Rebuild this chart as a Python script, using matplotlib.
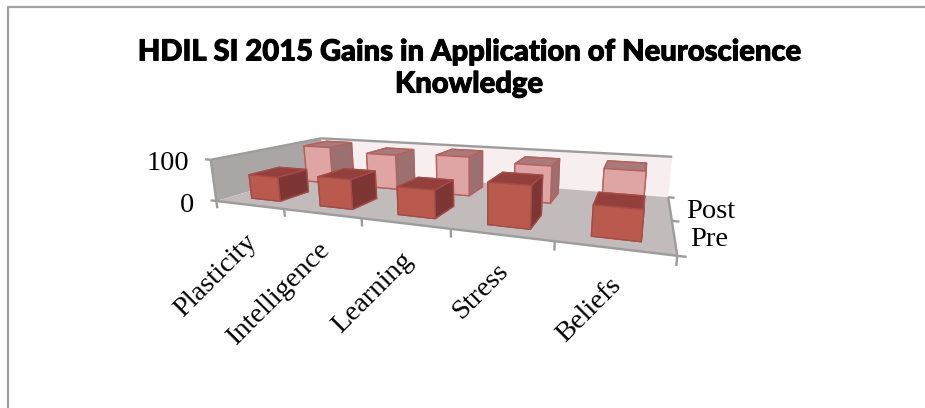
import matplotlib
matplotlib.use("Agg")
import matplotlib.pyplot as plt
import matplotlib.patheffects as pe
import numpy as np
from matplotlib.lines import Line2D
from mpl_toolkits.mplot3d import proj3d
from mpl_toolkits.mplot3d.art3d import Line3DCollection, Poly3DCollection

categories = ['Plasticity', 'Intelligence', 'Learning', 'Stress', 'Beliefs']
series_names = ['Pre', 'Post']
pre_values = [58, 68, 61, 87, 60]
post_values = [100, 90, 97, 88, 90]
value_ticks = [0, 100]

title = 'HDIL SI 2015 Gains in Application of Neuroscience\nKnowledge'

fig = plt.figure(figsize=(9.25, 4.08), dpi=100)
ax = fig.add_axes([0, 0, 1, 1], projection='3d', computed_zorder=False)
ax.apply_aspect = lambda position=None: None   # keep the whole figure, not a square
ax.set_axis_off()
ax.set_xlim(0, 5)
ax.set_ylim(0, 2)
ax.set_zlim(0, 100)

# camera: fit a perspective matrix to where the corners and ticks sit in the picture
world = np.array([
    [0, 0, 0], [5, 0, 0], [5, 2, 0], [0, 2, 0],
    [0, 0, 100], [0, 2, 100], [5, 2, 100],
    [1, 0, 0], [2, 0, 0], [3, 0, 0], [4, 0, 0], [5, 1, 0],
], dtype=float)
pixels = np.array([
    [217, 201], [677, 256], [668, 197], [323, 170],
    [210, 160], [322, 138], [672, 157],
    [284, 209], [362, 218], [451, 229], [554, 241], [673, 221],
], dtype=float)

rows = []
for (x, y, z), (u, v) in zip(world, pixels):
    X = [x, y, z/100, 1]
    u, v = u/100, v/100
    rows.append(X + [0, 0, 0, 0] + [-u*c for c in X])
    rows.append([0, 0, 0, 0] + X + [-v*c for c in X])
H = np.linalg.svd(np.array(rows))[2][-1].reshape(3, 4)
H[:, 2] /= 100
H[0] *= 100
H[1] *= 100
if H[2] @ [2.5, 1, 50, 1] < 0:
    H = -H
H /= H[2] @ [2.5, 1, 50, 1]

p0 = ax.transData.inverted().transform([0, 408])
p1 = ax.transData.inverted().transform([925, 0])
sx = (p1[0]-p0[0])/925
sy = (p1[1]-p0[1])/408
M = np.array([
    sx*H[0] + p0[0]*H[2],
    sy*H[1] + p0[1]*H[2],
    H[2] - np.array([0, 0, 0, 1.0]),
    H[2],
])
ax.get_proj = lambda: M

# walls and floor
floor = [(0, 0, 0), (5, 0, 0), (5, 2, 0), (0, 2, 0)]
left = [(0, 0, 0), (0, 2, 0), (0, 2, 100), (0, 0, 100)]
back = [(0, 2, 0), (5, 2, 0), (5, 2, 100), (0, 2, 100)]
for poly, c in [(back, '#f7eef0'), (left, '#aaa6a5'), (floor, '#c1bcbb')]:
    ax.add_collection3d(Poly3DCollection([poly], facecolors=c, edgecolors='none', zorder=0.5))

# frame edges and ticks
segments = [
    [(0, 0, 0), (5, 0, 0)], [(5, 0, 0), (5, 2, 0)],
    [(0, 0, 100), (0, 2, 100)], [(0, 2, 100), (5, 2, 100)],
    [(0, 0, 0), (0, 0, 100)],
]
for i in range(len(categories)+1):
    segments.append([(i, 0, 0), (i, 0, -18)])
for j in range(len(series_names)+1):
    segments.append([(5, j, 0), (5.07, j, 0)])
for t in value_ticks:
    segments.append([(0, 0, t), (-0.09, 0, t)])
ax.add_collection3d(Line3DCollection(segments, colors='#9c9c9c', linewidths=1.7, zorder=1.5))

# bars, faces are bottom, top, front, back, left, right
pre_faces = ['#7b3533', '#933f3c', '#ba5a4e', '#7b3533', '#7b3533', '#7d3634']
post_faces = ['#9a6e6e', '#a97a7a', '#dfa5a4', '#9a6e6e', '#9a6e6e', '#9c7070']
pos = np.arange(len(categories)) + 0.29
ax.bar3d(pos, np.full(5, 1.25), np.zeros(5), 0.43, 0.5, post_values,
         color=post_faces*5, edgecolor='#b5615e', linewidth=1, shade=False, zorder=2)
ax.bar3d(pos, np.full(5, 0.25), np.zeros(5), 0.43, 0.5, pre_values,
         color=pre_faces*5, edgecolor='#a54c48', linewidth=1, shade=False, zorder=3)

# labels: anchored on the axes, moved out by a few pixels
serif = 'Liberation Serif'
def label(x, y, z, text, dx, dy, **kw):
    xp, yp, _ = proj3d.proj_transform(x, y, z, M)
    ax.annotate(text, (xp, yp), xytext=(dx, dy), textcoords='offset pixels',
                family=serif, fontsize=20.5, color='black', zorder=5, annotation_clip=False, **kw)

for i, name in enumerate(categories):
    label(i+0.5, 0, 0, name, 4, -33, rotation=45, ha='right', va='center', rotation_mode='anchor')
label(5, 0.5, 0, series_names[0], 35, -3, ha='center', va='center')
label(5, 1.5, 0, series_names[1], 41, -3, ha='center', va='center')
for t in value_ticks:
    label(0, 0, t, str(t), -22, -4, ha='right', va='center')

fig.text(0.507, 0.832, title, ha='center', va='center', family='Lato', fontweight='black',
         fontsize=21, linespacing=1.29,
         path_effects=[pe.withStroke(linewidth=0.7, foreground='black')])

# chart frame, cut by the picture on two sides
fig.add_artist(Line2D([8/925, 8/925, 1], [0, 401/408, 401/408], color='#a0a0a0', lw=1.6))

fig.savefig('out.png', dpi=100)
